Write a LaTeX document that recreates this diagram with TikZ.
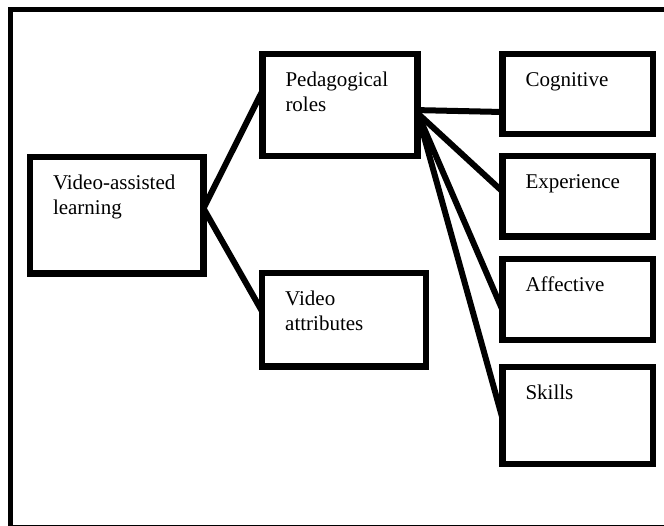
\documentclass[tikz,border=0pt]{standalone}
\usepackage{fontspec}
\setmainfont{Liberation Serif}
\usetikzlibrary{calc}

\tikzset{
  box/.style={draw, line width=6.5pt, rectangle, anchor=north west,
    outer sep=0pt, inner ysep=0pt, inner xsep=23pt, align=left,
    text height=32.5pt, font=\fontsize{21}{25}\selectfont},
  link/.style={line width=6pt},
  frame/.style={line width=5pt}
}

\begin{document}
\begin{tikzpicture}[x=1pt, y=-1pt]
  \useasboundingbox (0,0) rectangle (664,526);
  \clip (0,0) rectangle (664,526);
  \fill[white] (0,0) rectangle (664,526);

  % outer frame (runs past the right and bottom edges)
  \draw[frame] (10,9.5) rectangle (668,527);

  % boxes
  \node[box, text width=127.5pt, text depth=83.8pt] (val) at (30,157.2) {Video-assisted\\learning};
  \node[box, text width=109pt, text depth=69.5pt] (ped) at (262.5,54) {Pedagogical\\roles};
  \node[box, text width=117.8pt, text depth=61pt] (va) at (262.2,273.2) {Video\\attributes};
  \node[box, text width=104.5pt, text depth=47.5pt] (cog) at (502.5,54) {Cognitive};
  \node[box, text width=104.5pt, text depth=48.2pt] (exp) at (502.5,156) {Experience};
  \node[box, text width=104.5pt, text depth=48.3pt] (aff) at (502.5,259.2) {Affective};
  \node[box, text width=104.5pt, text depth=64.3pt] (ski) at (502.5,367.2) {Skills};

  % connectors
  \draw[link] ($(val.north east)!0.44!(val.south east)$) -- ($(ped.north west)!0.36!(ped.south west)$);
  \draw[link] ($(val.north east)!0.44!(val.south east)$) -- ($(va.north west)!0.41!(va.south west)$);
  \draw[link] ($(ped.north east)!0.55!(ped.south east)$) -- ($(cog.north west)!0.725!(cog.south west)$);
  \draw[link] ($(ped.north east)!0.58!(ped.south east)$) -- ($(exp.north west)!0.44!(exp.south west)$);
  \draw[link] ($(ped.north east)!0.58!(ped.south east)$) -- ($(aff.north west)!0.63!(aff.south west)$);
  \draw[link] ($(ped.north east)!0.58!(ped.south east)$) -- ($(ski.north west)!0.53!(ski.south west)$);
\end{tikzpicture}
\end{document}
